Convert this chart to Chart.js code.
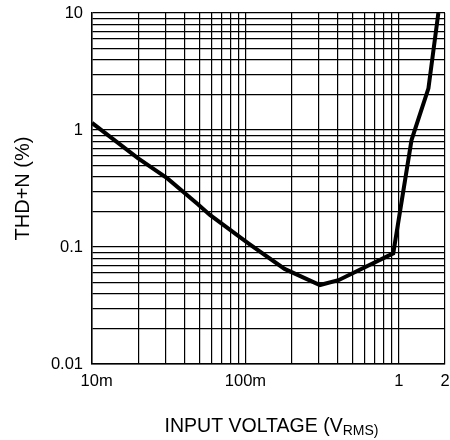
<!DOCTYPE html>
<html>
<head>
<meta charset="utf-8">
<script src="https://cdn.jsdelivr.net/npm/chart.js@4.4.1/dist/chart.umd.min.js"></script>
<style>
  body { margin: 0; background: #fff; }
  #wrap { width: 450px; height: 440px; }
</style>
</head>
<body>
<div id="wrap"><canvas id="thdChart" width="450" height="440"></canvas></div>
<script>
// values (x in V rms, y in %)
var inputVoltage = [0.01, 0.02, 0.031, 0.049, 0.0587, 0.1045, 0.18, 0.306, 0.404, 0.92, 1.21, 1.56, 1.81];
var thdN = [1.15, 0.573, 0.386, 0.232, 0.188, 0.1076, 0.065, 0.0473, 0.052, 0.0883, 0.82, 2.27, 10];

// tick labels (leading spaces nudge 10m off the corner like the original)
var xLabelValues = [0.01, 0.1, 1, 2];
var xLabelTexts = ["  10m", "100m", "1", "2"];
var yLabelValues = [0.01, 0.1, 1, 10];
var yLabelTexts = ["0.01", "0.1", "1", "10"];

var FONT = "'Liberation Sans', Arial, sans-serif";

// gridline positions: every 1..9 multiple of each decade
function decadeTicks(min, max) {
  var out = [];
  for (var e = -3; e <= 2; e++) {
    for (var k = 1; k <= 9; k++) {
      var v = +(k * Math.pow(10, e)).toPrecision(6);
      if (v >= min - 1e-9 && v <= max + 1e-9) out.push(v);
    }
  }
  return out;
}

function labelFor(v, vals, texts) {
  for (var i = 0; i < vals.length; i++) {
    if (Math.abs(v - vals[i]) < vals[i] * 1e-6) return texts[i];
  }
  return "";
}

var points = inputVoltage.map(function (x, i) { return { x: x, y: thdN[i] }; });

// x axis title with subscript, drawn on the canvas
var xTitlePlugin = {
  id: "xTitle",
  afterDraw: function (chart) {
    var ctx = chart.ctx;
    var area = chart.chartArea;
    var main = "INPUT VOLTAGE (V";
    var sub = "RMS)";
    ctx.save();
    ctx.fillStyle = "#000";
    ctx.textBaseline = "alphabetic";
    ctx.font = "19.5px " + FONT;
    var w1 = ctx.measureText(main).width;
    ctx.font = "14px " + FONT;
    var w2 = ctx.measureText(sub).width;
    var x0 = (area.left + area.right) / 2 + 3 - (w1 + w2) / 2;
    ctx.font = "19.5px " + FONT;
    ctx.fillText(main, x0, 431.5);
    ctx.font = "14px " + FONT;
    ctx.fillText(sub, x0 + w1, 435);
    ctx.restore();
  }
};

var ctx = document.getElementById("thdChart").getContext("2d");
var chart = new Chart(ctx, {
  type: "line",
  data: {
    datasets: [{
      label: "THD+N",
      data: points,
      borderColor: "#000",
      borderWidth: 4,
      pointRadius: 0,
      tension: 0,
      fill: false
    }]
  },
  options: {
    responsive: false,
    animation: false,
    layout: { padding: { left: 0, right: 5, top: 13, bottom: 0 } },
    plugins: {
      legend: { display: false },
      tooltip: { enabled: false }
    },
    scales: {
      x: {
        type: "logarithmic",
        min: 0.01,
        max: 2,
        afterBuildTicks: function (scale) {
          scale.ticks = decadeTicks(0.01, 2).map(function (v) { return { value: v }; });
        },
        afterFit: function (scale) {
          scale.height = 76;
          // labels may hang past the frame, don't shrink the plot for them
          scale.paddingLeft = 0;
          scale.paddingRight = 0;
        },
        grid: { color: "#000", lineWidth: 1.2, drawTicks: false },
        border: { color: "#000", width: 1.5 },
        ticks: {
          color: "#000",
          font: { family: FONT, size: 16.5 },
          padding: 8,
          maxRotation: 0,
          autoSkip: false,
          callback: function (v) { return labelFor(v, xLabelValues, xLabelTexts); }
        }
      },
      y: {
        type: "logarithmic",
        min: 0.01,
        max: 10,
        afterBuildTicks: function (scale) {
          scale.ticks = decadeTicks(0.01, 10).map(function (v) { return { value: v }; });
        },
        afterFit: function (scale) {
          scale.width = 92;
          scale.paddingTop = 0;
          scale.paddingBottom = 0;
        },
        grid: { color: "#000", lineWidth: 1.2, drawTicks: false },
        border: { color: "#000", width: 1.5 },
        title: {
          display: true,
          text: "THD+N (%)",
          color: "#000",
          font: { family: FONT, size: 20 },
          padding: { top: 11, bottom: 0 }
        },
        ticks: {
          color: "#000",
          font: { family: FONT, size: 16.5 },
          padding: 9,
          autoSkip: false,
          callback: function (v) { return labelFor(v, yLabelValues, yLabelTexts); }
        }
      }
    }
  },
  plugins: [xTitlePlugin]
});
</script>
</body>
</html>
